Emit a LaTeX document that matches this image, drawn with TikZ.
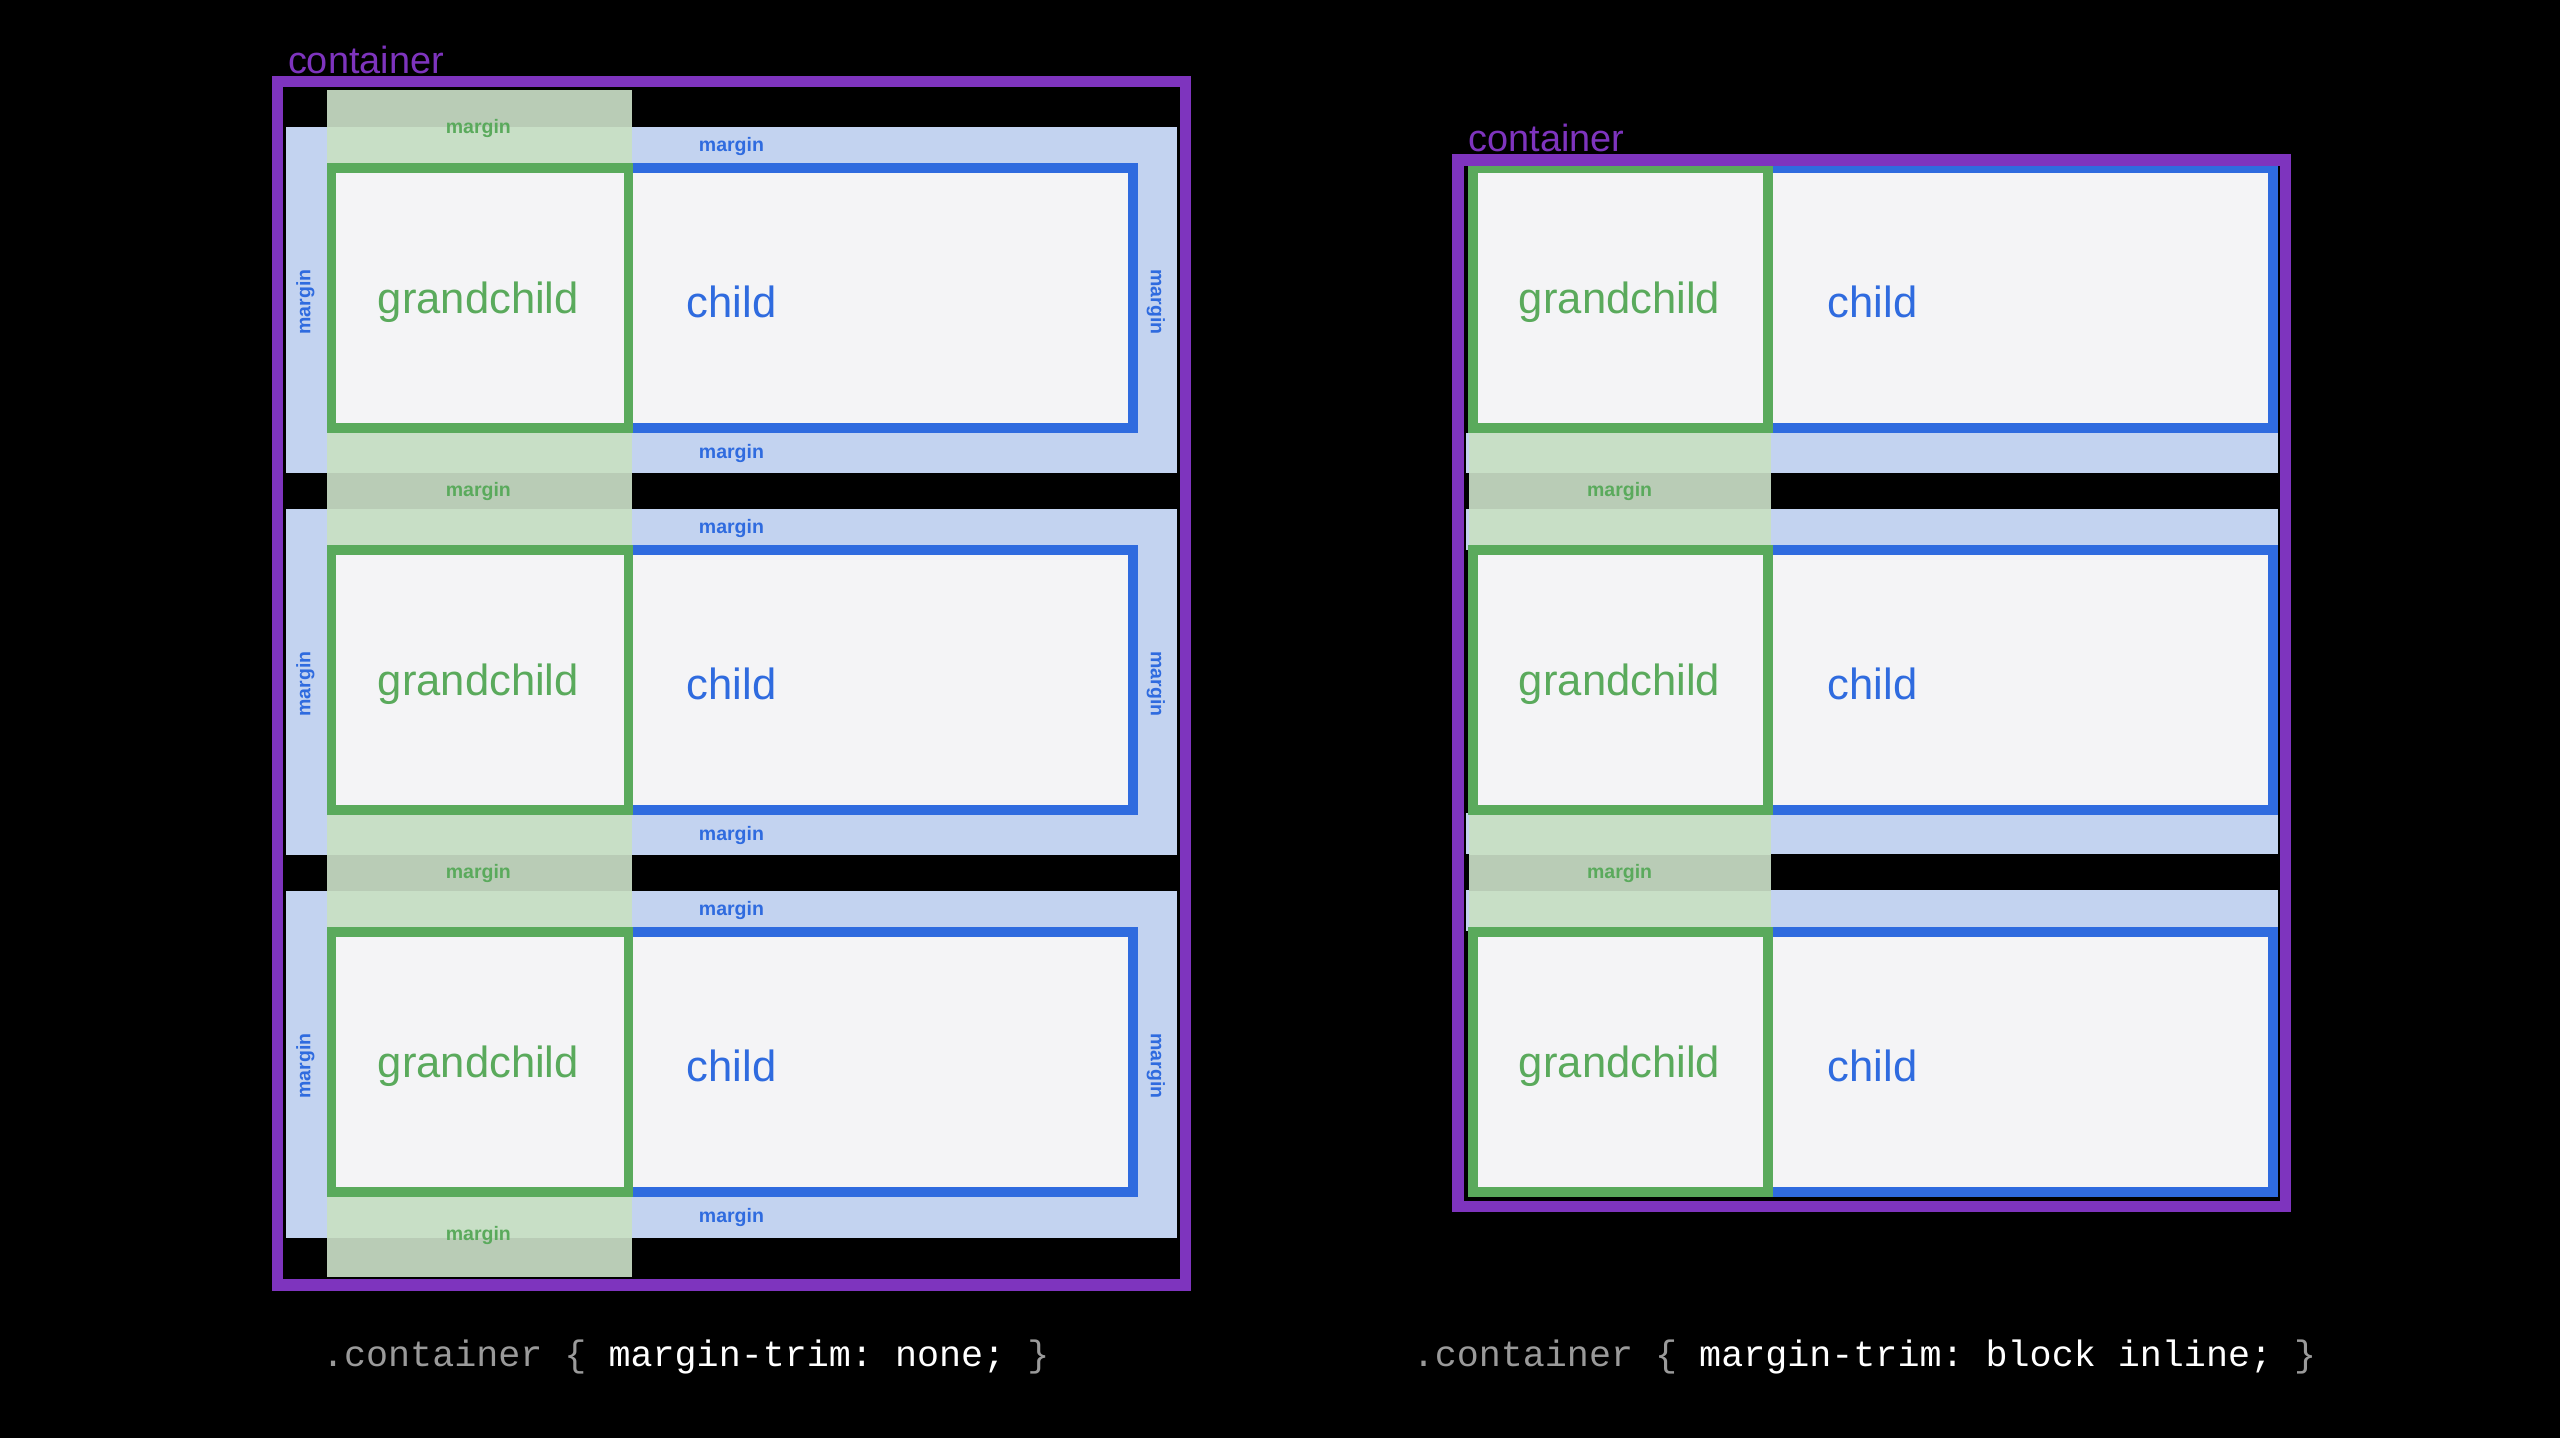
\documentclass[tikz,border=0pt]{standalone}
\usepackage{fontspec}
\setmainfont{Liberation Sans}
\setmonofont{Liberation Mono}
\definecolor{trimpurple}{HTML}{7E34BE}
\definecolor{childblue}{HTML}{2F6BDF}
\definecolor{grandgreen}{HTML}{5AAA5C}
\definecolor{bandblue}{HTML}{C3D3F0}
\definecolor{bandgreen}{HTML}{C8DFC6}
\definecolor{darkgreen}{HTML}{B9CCB6}
\definecolor{boxfill}{HTML}{F4F4F6}
\definecolor{codegray}{HTML}{9A9A9A}

\begin{document}
\begin{tikzpicture}[x=0.1mm,y=-0.1mm,
    container_box/.style ={draw=trimpurple, line width=2pt},
    child_box/.style ={draw=childblue, fill=boxfill, line width=1.7pt},
    grand_box/.style ={draw=grandgreen, line width=1.7pt},
    big_label/.style ={font=\fontsize{7.6}{9}\selectfont},
    margin_blue/.style ={text=childblue, font=\bfseries\fontsize{3.4}{4}\selectfont},
    margin_green/.style ={text=grandgreen, font=\bfseries\fontsize{3.4}{4}\selectfont},
    title_label/.style ={text=trimpurple, font=\fontsize{6.6}{8}\selectfont, anchor=base west},
    code_label/.style ={font=\ttfamily\fontsize{6.4}{8}\selectfont}]
  % background and bounding box
  \fill[black] (0,0) rectangle (1568,881);
  \useasboundingbox (0,0) rectangle (1568,881);
  % ---------- left: margin-trim none ----------
  \foreach \t [count=\i] in {103,337,571} {
    \fill[bandblue] (175,\t-25) rectangle (721,\t+187);
    \node[margin_blue] (lbt\i) at (448,\t-13) {margin};
    \node[margin_blue] (lbb\i) at (448,\t+175) {margin};
    \node[margin_blue, rotate=90] (lbl\i) at (187,\t+82) {margin};
    \node[margin_blue, rotate=-90] (lbr\i) at (708,\t+82) {margin};
  }
  \fill[bandgreen] (200,55) rectangle (387,782);
  \fill[darkgreen] (200,290) rectangle (387,312);
  \fill[darkgreen] (200,524) rectangle (387,546);
  \fill[darkgreen] (200,758) rectangle (387,782);
  \fill[darkgreen] (200,55) rectangle (387,78);
  \foreach \t [count=\i] in {103,337,571} {
    \draw[child_box] (385,\t) rectangle (694,\t+159);
    \draw[grand_box, fill=boxfill] (203,\t) rectangle (385,\t+159);
    \node[big_label, text=grandgreen] (lgc\i) at (293,\t+82) {grandchild};
    \node[big_label, text=childblue] (lch\i) at (448,\t+82) {child};
  }
  \foreach \y [count=\i] in {79,301,535,757}
    \node[margin_green] (lgm\i) at (293,\y) {margin};
  \draw[container_box] (170,50) rectangle (726,787);
  \node[title_label] (ltitle) at (164,45) {container};
  \node[code_label] (lcode) at (420,831) {\textcolor{codegray}{.container \{} \textcolor{white}{margin-trim: none;} \textcolor{codegray}{\}}};
  % ---------- right: margin-trim block inline ----------
  \foreach \t in {265,498} {
    \fill[bandblue] (898,\t) rectangle (1395,\t+25);
    \fill[bandblue] (898,\t+47) rectangle (1395,\t+72);
  }
  \fill[bandgreen] (900,265) rectangle (1085,337);
  \fill[bandgreen] (900,498) rectangle (1085,571);
  \fill[darkgreen] (900,290) rectangle (1085,312);
  \fill[darkgreen] (900,524) rectangle (1085,546);
  \foreach \t [count=\i] in {103,337,571} {
    \draw[child_box] (1083,\t) rectangle (1392,\t+159);
    \draw[grand_box, fill=boxfill] (902,\t) rectangle (1083,\t+159);
    \node[big_label, text=grandgreen] (rgc\i) at (992,\t+82) {grandchild};
    \node[big_label, text=childblue] (rch\i) at (1147,\t+82) {child};
  }
  \node[margin_green] (rgm1) at (992,301) {margin};
  \node[margin_green] (rgm2) at (992,535) {margin};
  \draw[container_box] (893,98) rectangle (1400,739);
  \node[title_label] (rtitle) at (887,93) {container};
  \node[code_label] (rcode) at (1142,831) {\textcolor{codegray}{.container \{} \textcolor{white}{margin-trim: block inline;} \textcolor{codegray}{\}}};
\end{tikzpicture}
\end{document}
